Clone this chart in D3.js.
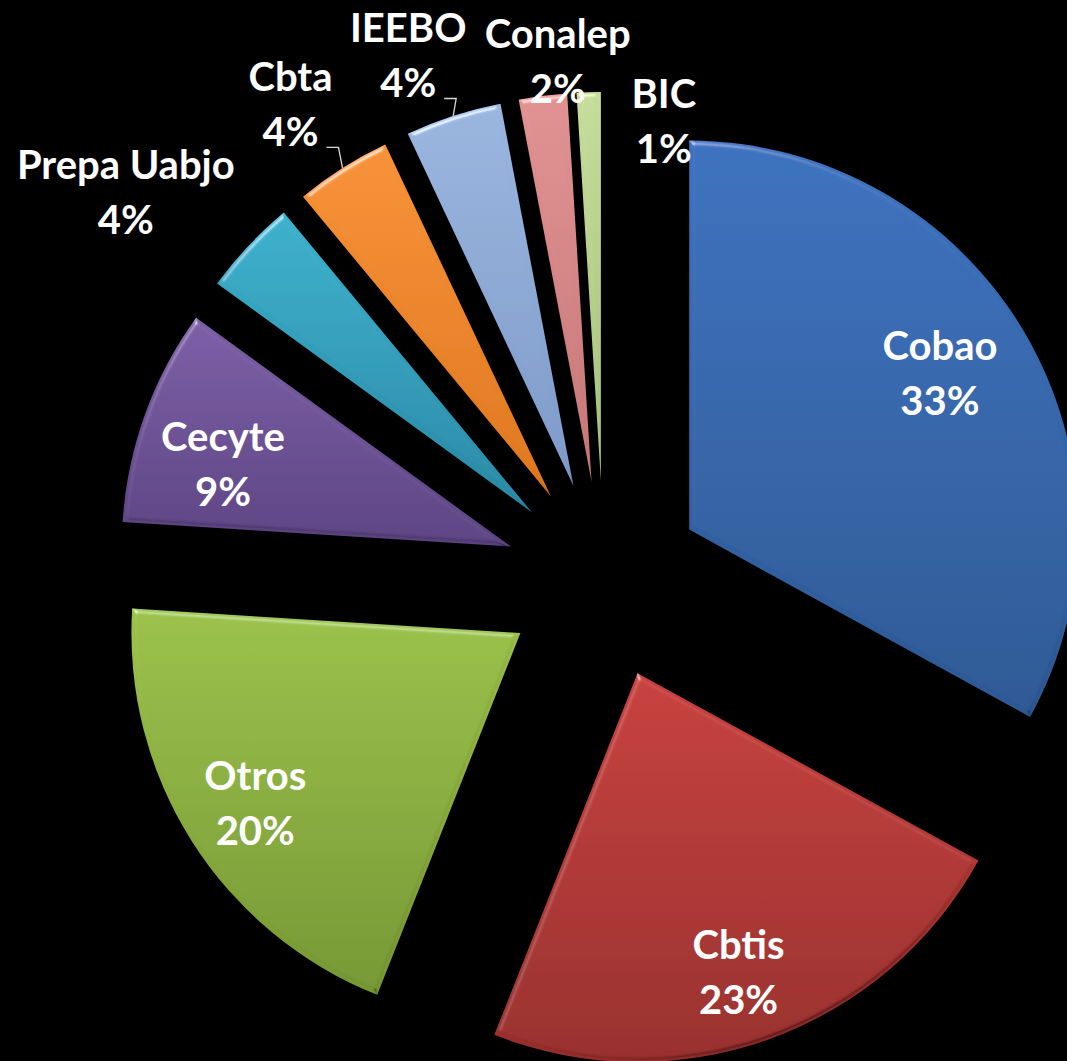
<!DOCTYPE html>
<html lang="es">
<head>
  <meta charset="UTF-8">
  <title>Subsistemas</title>
  <script src="https://d3js.org/d3.v7.min.js"></script>
  <style>
    html, body { margin: 0; padding: 0; background: #000; }
    svg { display: block; background: #000; }
    .label text {
      font-family: Lato, "Open Sans", sans-serif;
      font-weight: 700;
      font-size: 40px;
      fill: #fff;
    }
    .leader {
      fill: none;
      stroke: #d9d9d9;
      stroke-width: 1.3px;
    }
  </style>
</head>
<body>
  <svg width="1067" height="1061"></svg>
  <script>
    // data
    const categories = ["Cobao", "Cbtis", "Otros", "Cecyte", "Prepa Uabjo", "Cbta", "IEEBO", "Conalep", "BIC"];
    const values = [33, 23, 20, 9, 4, 4, 4, 2, 1];

    const svg = d3.select("svg");
    const cx = 604, cy = 580, radius = 389, explode = 99;

    // office-like palette (top / bottom of each slice gradient)
    const colorTop = d3.scaleOrdinal()
      .domain(categories)
      .range(["#3b72bf", "#c8403d", "#9cc24a", "#7c5ea6", "#3cb1ce", "#f89236", "#9ab6e0", "#e29292", "#c6dd9b"]);
    const colorBottom = d3.scaleOrdinal()
      .domain(categories)
      .range(["#2d5995", "#982e2c", "#769833", "#5c4383", "#2889a5", "#df771d", "#7d9ac9", "#c67676", "#a6c078"]);

    // label placement: distance (share of radius) and angle shift (deg) from the slice apex
    const labelPlacement = {
      "Cobao":       { r: 0.76,  da: -1.4 },
      "Cbtis":       { r: 0.81,  da: 1.1 },
      "Otros":       { r: 0.81,  da: -0.3 },
      "Cecyte":      { r: 0.77,  da: -3.8 },
      "Prepa Uabjo": { r: 1.33,  da: -4.9 },
      "Cbta":        { r: 1.21,  da: -1.2, leader: true },
      "IEEBO":       { r: 1.185, da: -3,   leader: true },
      "Conalep":     { r: 1.085, da: 2.6 },
      "BIC":         { r: 0.94,  da: 11.7 }
    };

    const rows = categories.map((name, i) => ({ name, value: values[i] }));
    const total = d3.sum(values);
    const pct = d3.format(".0%");

    const pie = d3.pie().sort(null).value(d => d.value);
    const arcs = pie(rows);
    const arc = d3.arc().innerRadius(0).outerRadius(radius);

    const mid = d => (d.startAngle + d.endAngle) / 2;
    const polar = (a, r) => [r * Math.sin(a), -r * Math.cos(a)];
    const apex = d => {
      const [x, y] = polar(mid(d), explode);
      return [cx + x, cy + y];
    };

    const defs = svg.append("defs");

    arcs.forEach((d, i) => {
      const g = defs.append("linearGradient")
        .attr("id", "grad" + i)
        .attr("x1", 0).attr("y1", 0).attr("x2", 0).attr("y2", 1);
      g.append("stop").attr("offset", "0%").attr("stop-color", colorTop(d.data.name));
      g.append("stop").attr("offset", "100%").attr("stop-color", colorBottom(d.data.name));
    });

    // soft bevel on the slice edges
    const f = defs.append("filter")
      .attr("id", "bevel")
      .attr("x", "-5%").attr("y", "-5%").attr("width", "110%").attr("height", "110%");
    f.append("feGaussianBlur").attr("in", "SourceAlpha").attr("stdDeviation", 2.4).attr("result", "blur");
    f.append("feSpecularLighting")
      .attr("in", "blur").attr("surfaceScale", 3.5).attr("specularConstant", 0.8)
      .attr("specularExponent", 32).attr("lighting-color", "#ffffff").attr("result", "hi")
      .append("feDistantLight").attr("azimuth", 245).attr("elevation", 30);
    f.append("feComposite").attr("in", "hi").attr("in2", "SourceAlpha").attr("operator", "in").attr("result", "hiIn");
    f.append("feSpecularLighting")
      .attr("in", "blur").attr("surfaceScale", 3.5).attr("specularConstant", 0.8)
      .attr("specularExponent", 32).attr("lighting-color", "#ffffff").attr("result", "lo")
      .append("feDistantLight").attr("azimuth", 65).attr("elevation", 30);
    f.append("feComposite").attr("in", "lo").attr("in2", "SourceAlpha").attr("operator", "in").attr("result", "loIn");
    f.append("feComposite").attr("in", "SourceGraphic").attr("in2", "hiIn")
      .attr("operator", "arithmetic").attr("k1", 0).attr("k2", 1).attr("k3", 0.6).attr("k4", 0).attr("result", "lit");
    // darken the edges turned away from the light, keeping the hue
    f.append("feComposite").attr("in", "lit").attr("in2", "loIn")
      .attr("operator", "arithmetic").attr("k1", -0.45).attr("k2", 1).attr("k3", 0).attr("k4", 0);

    svg.append("g")
      .attr("class", "slices")
      .selectAll("path")
      .data(arcs)
      .join("path")
      .attr("transform", d => `translate(${apex(d)})`)
      .attr("d", arc)
      .attr("fill", (d, i) => `url(#grad${i})`)
      .attr("filter", "url(#bevel)");

    const labels = svg.append("g")
      .attr("class", "label")
      .selectAll("g")
      .data(arcs)
      .join("g")
      .attr("transform", d => {
        const p = labelPlacement[d.data.name];
        const [ax, ay] = apex(d);
        const [lx, ly] = polar(mid(d) + p.da * Math.PI / 180, p.r * radius);
        return `translate(${ax + lx},${ay + ly})`;
      });

    labels.append("text")
      .attr("text-anchor", "middle")
      .attr("y", -13)
      .text(d => d.data.name);

    labels.append("text")
      .attr("class", "pct")
      .attr("text-anchor", "middle")
      .attr("y", 42)
      .text(d => pct(d.data.value / total));

    // leader lines for the labels pulled away from their slice
    labels.filter(d => labelPlacement[d.data.name].leader).each(function (d) {
      const p = labelPlacement[d.data.name];
      const [lx, ly] = polar(mid(d) + p.da * Math.PI / 180, p.r * radius);
      const [ex, ey] = polar(mid(d), radius);
      const w = d3.select(this).select(".pct").node().getComputedTextLength();
      const x0 = w / 2 + 8, y0 = 43;
      const pts = [[x0, y0], [x0 + 12, y0], [ex - lx, ey - ly]];
      d3.select(this).append("path")
        .attr("class", "leader")
        .attr("d", d3.line()(pts));
    });
  </script>
</body>
</html>
